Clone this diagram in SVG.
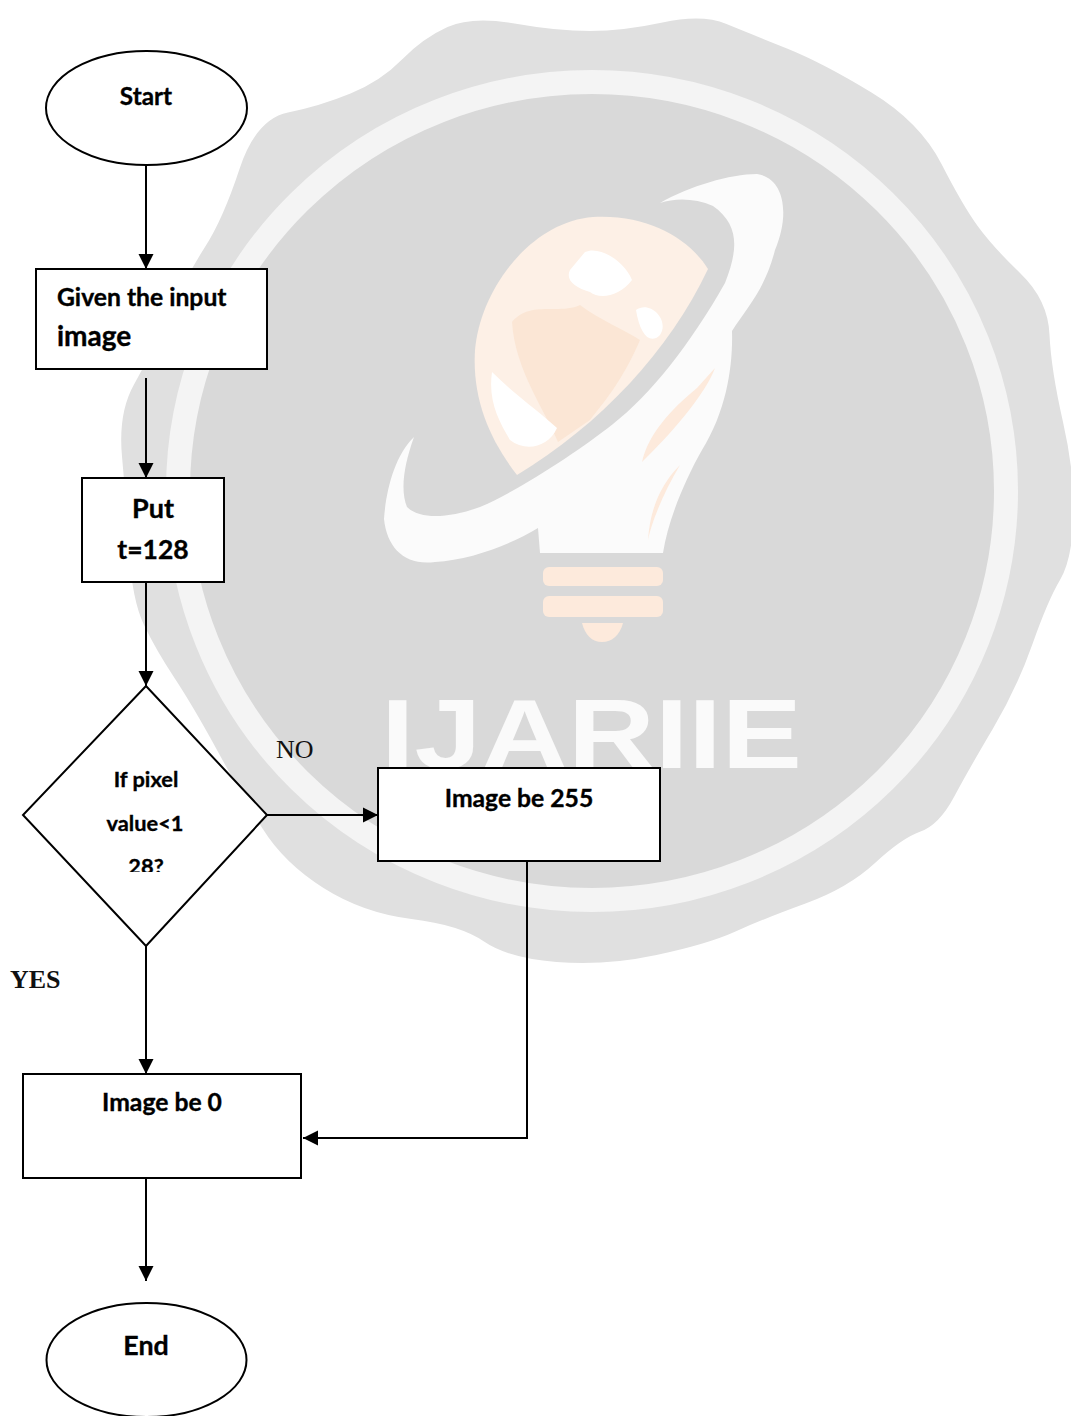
<svg xmlns="http://www.w3.org/2000/svg" width="1071" height="1416" viewBox="0 0 1071 1416">
<style>
.n{fill:#fff;stroke:#000;stroke-width:2}
.c{fill:none;stroke:#000;stroke-width:2;marker-end:url(#a)}
.t{font-family:"Lato","Carlito","Liberation Sans",sans-serif;font-weight:700;fill:#000;stroke:#000;stroke-width:.35}
.m{text-anchor:middle}
.s{font-family:"Liberation Serif",serif;font-size:26px;fill:#111}
.p{fill:#fbe6d5}
</style>
<defs>
<marker id="a" markerUnits="userSpaceOnUse" markerWidth="16" markerHeight="16" refX="15" refY="8" orient="auto"><path d="M0 0.5L15 8L0 15.500Z" fill="#000"/></marker>
<clipPath id="dc"><rect x="0" y="700" width="300" height="172"/></clipPath>
</defs>
<rect width="1071" height="1416" fill="#fff"/>
<g id="watermark">
<path fill="#e0e0e0" d="M514.5 23.5Q557 31 590 31Q623 31 662.5 22.500Q702 14 726.5 24Q751 34 787 48.5Q823 63 871.5 92.5Q920 122 941.5 164Q963 206 978 226.5Q993 247 1020.5 273.5Q1048 300 1049.5 334.5Q1051 369 1063 422Q1075 475 1073.5 517.5Q1072 560 1060 580Q1048 600 1032.5 644Q1017 688 993 728.5Q969 769 954 797Q939 825 920.5 831.5Q902 838 875 863Q848 888 805.5 903.5Q763 919 735.5 931.5Q708 944 656.5 955Q605 966 556.5 962Q508 958 484 941.5Q460 925 411.5 919Q363 913 323.5 888Q284 863 262.5 828.5Q241 794 217 750Q193 706 174.5 678Q156 650 144 625Q132 600 129 550Q126 500 122 456.5Q118 413 134 384.5Q150 356 168.5 315.5Q187 275 205 247Q223 219 239.5 169Q256 119 288 112.5Q320 106 350.5 93.5Q381 81 402 59.5Q423 38 447.5 27Q472 16 514.5 23.5Z"/>
<ellipse cx="592" cy="491" rx="414" ry="409" fill="#d9d9d9" stroke="#f4f4f4" stroke-width="24"/>
<path fill="#fdf0e6" d="M517 475C490 440 472 400 475 350C480 290 530 222 593 217C650 214 690 240 708 269C670 350 600 425 517 475Z"/>
<path class="p" d="M512 322C530 300 560 315 580 305C600 320 625 330 640 340C625 375 610 395 590 420L558 442C545 410 515 370 512 322Z"/>
<path fill="#fff" d="M585 252C600 245 625 262 632 280C620 296 600 300 590 292C575 288 565 280 570 270ZM492 372C515 395 540 412 557 428C548 448 525 452 510 440C498 420 488 400 492 372ZM636 310C650 300 670 320 660 335C650 345 640 335 636 310Z"/>
<path fill="#fbfbfb" d="M660 203C690 186 730 174 757 174C785 178 790 215 775 250C765 290 745 310 732 331C733 365 727 410 702 450C685 480 668 520 663 553L540 553L538 528C510 545 470 560 435 562C405 566 387 548 384 519C386 490 395 455 414 437C404 465 400 490 407 507C420 520 450 518 480 507C520 490 580 450 613 424C650 395 690 345 725 283C738 250 740 225 713 206C695 198 675 198 660 203Z"/>
<path fill="#fdeadc" d="M715 368C705 395 670 435 642 462C648 435 670 410 697 388ZM680 465C665 490 652 520 648 540C650 510 660 485 680 465Z"/>
<rect x="543" y="567" width="120" height="19" rx="6" fill="#fdeadc"/>
<rect x="543" y="596" width="120" height="21" rx="6" fill="#fdeadc"/>
<path fill="#fdeadc" d="M582 623H623C620 635 612 642 602 642C592 642 585 635 582 623Z"/>
<text x="381" y="768" font-family="Liberation Sans,sans-serif" font-weight="700" font-size="98" fill="#fafafa" textLength="421" lengthAdjust="spacingAndGlyphs">IJARIIE</text>
</g>
<g id="connectors">
<path class="c" d="M146 165V269"/>
<path class="c" d="M146 378V478"/>
<path class="c" d="M146 582V686"/>
<path class="c" d="M267 815H378"/>
<path class="c" d="M146 946V1074"/>
<path class="c" d="M527 861V1138H303"/>
<path class="c" d="M146 1178V1281"/>
</g>
<g id="start"><ellipse class="n" cx="146.500" cy="108" rx="100.500" ry="57"/><text class="t m" x="146" y="105" font-size="24.300">Start</text></g>
<g id="input"><rect class="n" x="36" y="269" width="231" height="100"/><text class="t" x="57" y="306" font-size="24.700">Given the input</text><text class="t" x="57" y="346" font-size="28">image</text></g>
<g id="put"><rect class="n" x="82" y="478" width="142" height="104"/><text class="t m" x="153" y="518" font-size="27">Put</text><text class="t m" x="153" y="559" font-size="26.500">t=128</text></g>
<g id="decision"><path class="n" d="M146 686L267 815L146 946L23 815Z"/><g clip-path="url(#dc)"><text class="t m" x="146" y="787" font-size="21.800">If pixel</text><text class="t m" x="145" y="831" font-size="21.800">value&lt;1</text><text class="t m" x="146" y="874" font-size="21.800">28?</text></g></g>
<g id="img255"><rect class="n" x="378" y="768" width="282" height="93"/><text class="t m" x="519" y="807" font-size="24.700">Image be 255</text></g>
<g id="img0"><rect class="n" x="23" y="1074" width="278" height="104"/><text class="t m" x="162" y="1111" font-size="24.700">Image be 0</text></g>
<g id="end"><ellipse class="n" cx="146.500" cy="1360" rx="100" ry="57"/><text class="t m" x="146" y="1355" font-size="26.800">End</text></g>
<g id="labels"><text class="s" x="276" y="758">NO</text><text class="s" x="10" y="988" font-weight="700">YES</text></g>
</svg>
